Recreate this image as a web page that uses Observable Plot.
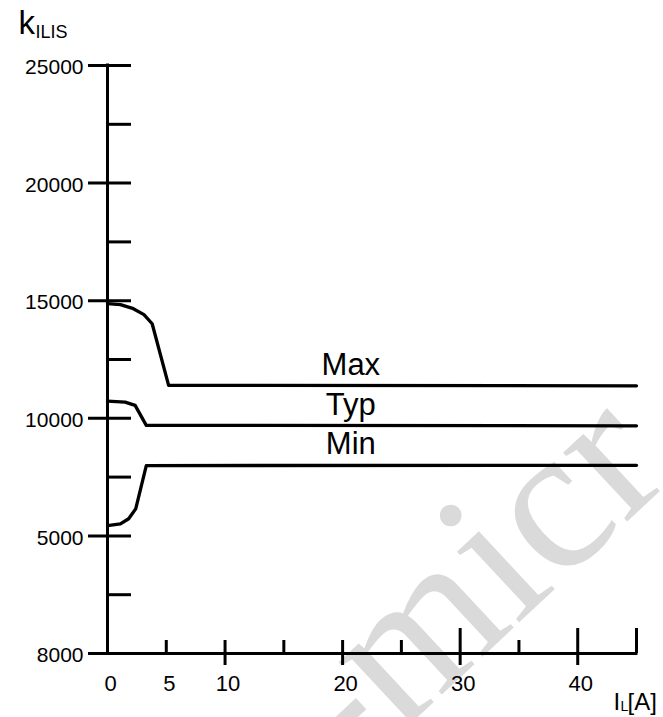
<!DOCTYPE html>
<html>
<head>
<meta charset="utf-8">
<script src="https://cdn.jsdelivr.net/npm/d3@7"></script>
<script src="https://cdn.jsdelivr.net/npm/@observablehq/plot@0.6"></script>
<style>
  body { margin: 0; background: #fff; }
  g[aria-label="y-tick-labels"] text { letter-spacing: 2px; }
  g[aria-label="y-title-sub"] text { letter-spacing: 2.2px; }
  g[aria-label="watermark"] text { letter-spacing: 18px; }
</style>
</head>
<body>
<div id="chart"></div>
<script>
// Series (x = I_L in A, y = k_ILIS)
const maxX = [0, 1.1, 2.2, 3.1, 3.8, 5.2, 45];
const maxY = [14880, 14830, 14660, 14410, 14020, 11400, 11380];
const typX = [0, 1.5, 2.35, 3.3, 45];
const typY = [10730, 10690, 10550, 9700, 9680];
const minX = [0, 1.1, 1.8, 2.4, 3.3, 45];
const minY = [5440, 5510, 5730, 6150, 7990, 8000];
const seriesNames = ["Max", "Typ", "Min"];

// Axis ticks and labels
const yMajorTicks = [0, 5000, 10000, 15000, 20000, 25000];
const yTickLabels = ["8000", "5000", "10000", "15000", "20000", "25000"];
const yMinorTicks = [2500, 7500, 12500, 17500, 22500];
const xTickValues = [0, 5, 10, 20, 30, 40];
const xTickLabels = ["0", "5", "10", "20", "30", "40"];
const xTicksShort = [5, 15, 25, 35];
const xTicksCross = [10, 20];
const xTicksLong = [30, 40];
const xTickEnd = [45];
const labelAtX = 20.7;
const watermarkText = ["-micr"];

const seriesX = [maxX, typX, minX];
const seriesY = [maxY, typY, minY];
const rows = seriesNames.flatMap((name, s) => seriesX[s].map((x, i) => ({name, x, y: seriesY[s][i]})));
const labelRows = seriesNames.map((name, s) => ({name, x: labelAtX, y: seriesY[s][seriesY[s].length - 1]}));

const sans = "'Liberation Sans', Arial, Helvetica, sans-serif";

const chart = Plot.plot({
  width: 663,
  height: 717,
  marginLeft: 107,
  marginRight: 27,
  marginTop: 65,
  marginBottom: 64,
  x: {domain: [0, 45], axis: null},
  y: {domain: [0, 25000], axis: null},
  style: {fontFamily: sans, background: "transparent", color: "black"},
  marks: [
    // watermark
    Plot.text(watermarkText, {frameAnchor: "top-left", dx: 242, dy: 715, rotate: -43, textAnchor: "start", lineAnchor: "bottom",
      fontSize: 205, fontFamily: "'Liberation Serif', 'DejaVu Serif', serif", fill: "#dadada", ariaLabel: "watermark"}),
    // axes
    Plot.ruleX([0], {y1: 0, y2: 25000, strokeWidth: 3, strokeLinecap: "square"}),
    Plot.ruleY([0], {x1: 0, x2: 45, strokeWidth: 3, strokeLinecap: "square"}),
    Plot.ruleY(yMajorTicks, {x1: 0, x2: 0, insetLeft: -19, insetRight: -24, strokeWidth: 3}),
    Plot.ruleY(yMinorTicks, {x1: 0, x2: 0, insetRight: -24, strokeWidth: 3}),
    Plot.ruleX(xTicksShort, {y1: 0, y2: 0, insetTop: -13, strokeWidth: 3}),
    Plot.ruleX(xTicksCross, {y1: 0, y2: 0, insetTop: -13, insetBottom: -12, strokeWidth: 3}),
    Plot.ruleX(xTicksLong, {y1: 0, y2: 0, insetTop: -25, insetBottom: -12, strokeWidth: 3}),
    Plot.ruleX(xTickEnd, {y1: 0, y2: 0, insetTop: -25, strokeWidth: 3}),
    // curves
    Plot.line(rows, {x: "x", y: "y", z: "name", stroke: "black", strokeWidth: 3.3, strokeLinejoin: "round", strokeLinecap: "round"}),
    Plot.text(labelRows, {x: "x", y: "y", text: "name", dy: -11, lineAnchor: "bottom", fontSize: 31, fill: "black"}),
    // tick labels
    Plot.text(yMajorTicks, {x: 0, y: (d) => d, text: (d, i) => yTickLabels[i], textAnchor: "end", dx: -24, dy: 2,
      fontSize: 21, fill: "black", ariaLabel: "y-tick-labels"}),
    Plot.text(xTickValues, {x: (d) => d, y: 0, text: (d, i) => xTickLabels[i], dx: 3, dy: 30, fontSize: 22, fill: "black"}),
    // axis titles
    Plot.text(["k"], {frameAnchor: "top-left", dx: -89, dy: -32, textAnchor: "start", lineAnchor: "bottom", fontSize: 33, fill: "black"}),
    Plot.text(["ILIS"], {frameAnchor: "top-left", dx: -72, dy: -28, textAnchor: "start", lineAnchor: "bottom", fontSize: 18, fill: "black", ariaLabel: "y-title-sub"}),
    Plot.text(["I"], {frameAnchor: "bottom-right", dx: -23, dy: 56, textAnchor: "start", lineAnchor: "bottom", fontSize: 24, fill: "black"}),
    Plot.text(["L"], {frameAnchor: "bottom-right", dx: -16, dy: 57, textAnchor: "start", lineAnchor: "bottom", fontSize: 14, fill: "black"}),
    Plot.text(["[A]"], {frameAnchor: "bottom-right", dx: -9, dy: 56, textAnchor: "start", lineAnchor: "bottom", fontSize: 24, fill: "black"})
  ]
});
document.getElementById("chart").appendChild(chart);
</script>
</body>
</html>
